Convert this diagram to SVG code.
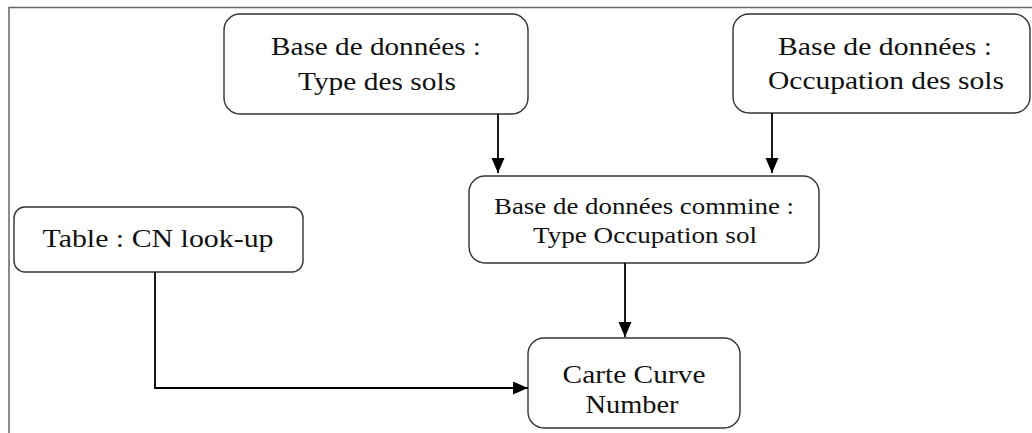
<svg xmlns="http://www.w3.org/2000/svg" width="1032" height="433" viewBox="0 0 1032 433">
<style>
.frame{fill:none;stroke:#666;stroke-width:1.5}
.node{fill:#fff;stroke:#333;stroke-width:1.4}
.t{font-family:"Liberation Serif","Times New Roman",serif;font-size:26px;fill:#111;text-anchor:middle}
.s{font-size:23px}
.c{fill:none;stroke:#000;stroke-width:1.8}
</style>
<defs>
<marker id="ah" markerUnits="userSpaceOnUse" markerWidth="15" markerHeight="14" refX="15" refY="6.5" orient="auto">
<path d="M0,0 L15,6.5 L0,13 z" fill="#000"/>
</marker>
</defs>
<rect width="1032" height="433" fill="#fff"/>
<path class="frame" d="M9,433 V7.5 H1032"/>
<g id="n1">
<rect class="node" x="224" y="14" width="304" height="100" rx="16"/>
<text class="t" x="376" y="55" textLength="210" lengthAdjust="spacingAndGlyphs">Base de données :</text>
<text class="t" x="377" y="90" textLength="158" lengthAdjust="spacingAndGlyphs">Type des sols</text>
</g>
<g id="n2">
<rect class="node" x="733" y="14" width="297" height="99" rx="16"/>
<text class="t" x="885" y="55" textLength="214" lengthAdjust="spacingAndGlyphs">Base de données :</text>
<text class="t" x="886" y="89" textLength="236" lengthAdjust="spacingAndGlyphs">Occupation des sols</text>
</g>
<g id="n3">
<rect class="node" x="469" y="176" width="350" height="87" rx="16"/>
<text class="t s" x="644" y="214" textLength="300" lengthAdjust="spacingAndGlyphs">Base de données commine :</text>
<text class="t s" x="645" y="243" textLength="224" lengthAdjust="spacingAndGlyphs">Type Occupation sol</text>
</g>
<g id="n4">
<rect class="node" x="528" y="338" width="212" height="90" rx="16"/>
<text class="t" x="634" y="383" textLength="143" lengthAdjust="spacingAndGlyphs">Carte Curve</text>
<text class="t" x="632" y="413" textLength="93" lengthAdjust="spacingAndGlyphs">Number</text>
</g>
<g id="n5">
<rect class="node" x="14" y="207" width="289" height="65" rx="11"/>
<text class="t" x="158" y="247" textLength="231" lengthAdjust="spacingAndGlyphs">Table : CN look-up</text>
</g>
<g id="connectors">
<path class="c" d="M498,114 V173" marker-end="url(#ah)"/>
<path class="c" d="M772,113 V173" marker-end="url(#ah)"/>
<path class="c" d="M625,263 V337" marker-end="url(#ah)"/>
<path class="c" d="M155,272 V388 H528" marker-end="url(#ah)"/>
</g>
</svg>
